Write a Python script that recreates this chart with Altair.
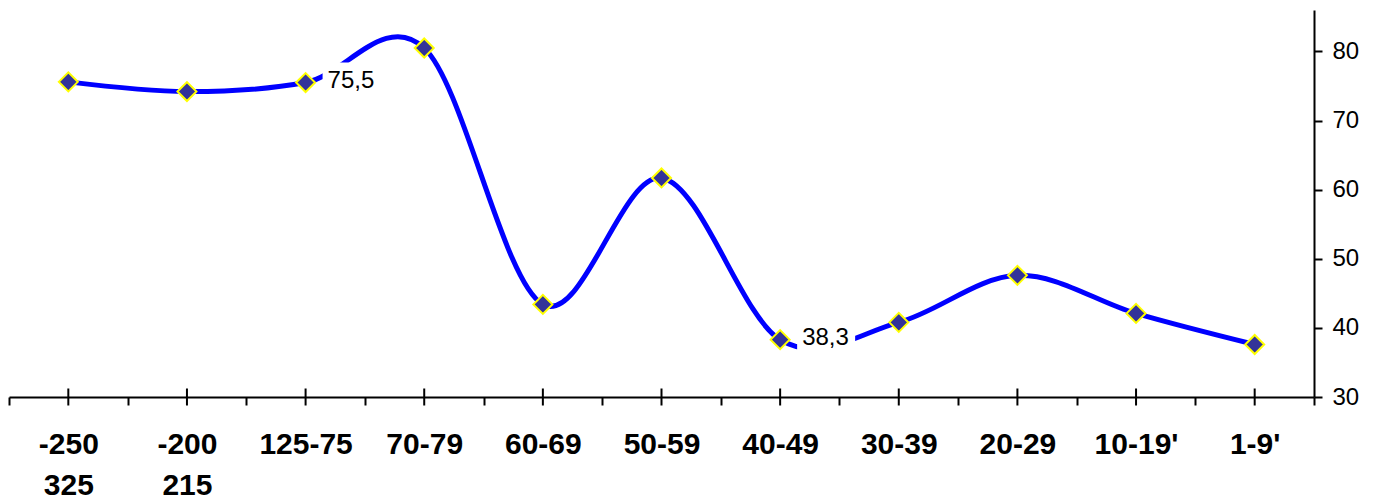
import altair as alt
import pandas as pd

categories = ["-250\n325", "-200\n215", "125-75", "70-79", "60-69", "50-59",
              "40-49", "30-39", "20-29", "10-19'", "1-9'"]
values = [75.6, 74.2, 75.5, 80.5, 43.4, 61.7, 38.3, 40.8, 47.6, 42.1, 37.6]
point_labels = ["", "", "75,5", "", "", "", "38,3", "", "", "", ""]
y_ticks = [30, 40, 50, 60, 70, 80]
y_domain = [30, 86]

df = pd.DataFrame({"cat": categories, "value": values, "label": point_labels})

FONT = "Liberation Sans"

x = alt.X(
    "cat:N", sort=categories,
    scale=alt.Scale(paddingInner=0, paddingOuter=0),
    axis=alt.Axis(
        title=None, labelAngle=0, tickBand="extent", tickSize=8, tickWidth=2,
        domainWidth=2, tickColor="black", domainColor="black",
        labelFont=FONT, labelFontSize=30, labelFontWeight="bold",
        labelColor="black", labelPadding=24, labelLineHeight=41,
        labelExpr="split(datum.label, '\\n')", grid=False,
    ),
)
y = alt.Y(
    "value:Q",
    scale=alt.Scale(domain=y_domain, nice=False, zero=False),
    axis=alt.Axis(
        orient="right", values=y_ticks, title=None, grid=False,
        tickSize=8, tickWidth=2, domainWidth=2, tickColor="black",
        domainColor="black", labelFont=FONT, labelFontSize=24,
        labelColor="black", labelPadding=10,
    ),
)

base = alt.Chart(df)

line = base.mark_line(
    color="#0000FF", strokeWidth=5, interpolate="cardinal", tension=0,
).encode(x=x, y=y)

labelled = base.transform_filter("datum.label != ''")

boxes = labelled.mark_point(
    shape="M 0.85 -1 L 3.75 -1 L 3.75 0.8 L 0.85 0.8 Z",
    size=1600, filled=True, color="white", opacity=1, strokeWidth=0,
).encode(x=x, y=y)

texts = labelled.mark_text(
    align="left", baseline="middle", dx=22, dy=-2,
    fontSize=24, font=FONT, color="black",
).encode(x=x, y=y, text="label:N")

points = base.mark_point(
    shape="diamond", size=361, filled=True, fill="#333399",
    stroke="#FFFF00", strokeWidth=2, opacity=1,
).encode(x=x, y=y)

center_ticks = base.mark_tick(
    orient="vertical", size=17, thickness=2, color="black", opacity=1,
).encode(x=x, y=alt.datum(30))

chart = alt.layer(line, boxes, texts, points, center_ticks).properties(
    width=1305, height=387,
    padding={"left": 0, "top": 2, "right": 5, "bottom": 0},
    background="white",
).configure_view(stroke=None)

chart.save("out.html", embed_options={"renderer": "svg", "actions": False})
